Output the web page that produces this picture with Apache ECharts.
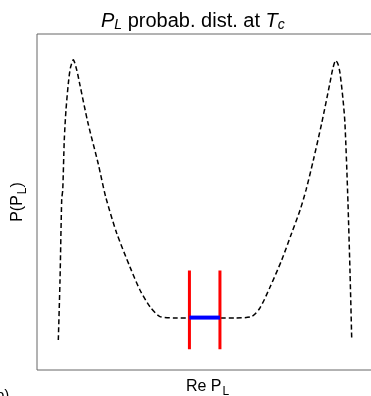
<!DOCTYPE html>
<html>
<head>
<meta charset="utf-8">
<script src="https://cdn.jsdelivr.net/npm/echarts@6/dist/echarts.min.js"></script>
<style>
  html, body { margin: 0; padding: 0; background: #fff; }
  #chart { width: 371px; height: 396px; }
</style>
</head>
<body>
<div id="chart"></div>
<script>
// Re P_L positions and probability values
const curveX = [-0.875, -0.865, -0.855, -0.849, -0.840, -0.830, -0.816, -0.804, -0.787,
  -0.767, -0.748, -0.701, -0.642, -0.597, -0.533, -0.455, -0.396, -0.337, -0.279,
  -0.191, -0.103, -0.015, 0.073, 0.161,
  0.259, 0.308, 0.367, 0.435, 0.494, 0.543, 0.578, 0.621, 0.670, 0.718,
  0.736, 0.752, 0.765, 0.777, 0.795, 0.806, 0.822, 0.836, 0.846];
const curveY = [0.089, 0.268, 0.509, 0.536, 0.685, 0.774, 0.854, 0.899, 0.923,
  0.893, 0.848, 0.735, 0.616, 0.515, 0.408, 0.307, 0.238, 0.188, 0.159,
  0.155, 0.155, 0.155, 0.155, 0.155,
  0.159, 0.185, 0.247, 0.327, 0.408, 0.476, 0.536, 0.625, 0.735, 0.854,
  0.899, 0.921, 0.911, 0.884, 0.804, 0.735, 0.527, 0.289, 0.089];

// red bars and blue segment
const redX = [-0.106, 0.073];
const redY = [0.062, 0.296];
const blueY = 0.156;

const FONT = "Liberation Sans, Arial, sans-serif";

const chart = echarts.init(document.getElementById("chart"));

const redSeries = redX.map(x => ({
  type: "line",
  data: [[x, redY[0]], [x, redY[1]]],
  showSymbol: false,
  silent: true,
  lineStyle: { color: "#ff0000", width: 3 },
  z: 3
}));

chart.setOption({
  animation: false,
  title: {
    text: "{i|P}{sub|L}{n| probab. dist. at }{i|T}{sub|c}",
    left: 96,
    top: 5,
    textStyle: {
      fontFamily: FONT, fontSize: 20, fontWeight: "normal", color: "#000",
      rich: {
        n: { fontFamily: FONT, fontSize: 20, fontWeight: "normal", color: "#000" },
        i: { fontFamily: FONT, fontSize: 20, fontWeight: "normal", fontStyle: "italic", color: "#000" },
        sub: { fontFamily: FONT, fontSize: 14, fontWeight: "normal", fontStyle: "italic", color: "#000",
               padding: [8, 0, 0, 0] }
      }
    }
  },
  grid: {
    left: 37, top: 34, width: 341, height: 336,
    outerBoundsMode: "none",
    containLabel: false,
    show: true, borderColor: "#666", borderWidth: 1
  },
  xAxis: {
    type: "value", min: -1, max: 1,
    name: "{n|Re P}{sub|L}",
    nameLocation: "middle",
    nameGap: 5,
    nameTextStyle: {
      fontFamily: FONT, fontSize: 16, color: "#000",
      rich: {
        n: { fontFamily: FONT, fontSize: 16, color: "#000" },
        sub: { fontFamily: FONT, fontSize: 12, color: "#000",
               padding: [11, 0, 0, 1] }
      }
    },
    axisLine: { show: false },
    axisTick: { show: false },
    axisLabel: { show: false },
    splitLine: { show: false }
  },
  yAxis: {
    type: "value", min: 0, max: 1,
    name: "{n|P(P}{sub|L}{n|)}",
    nameLocation: "middle",
    nameGap: 8,
    nameTextStyle: {
      fontFamily: FONT, fontSize: 16, color: "#000",
      rich: {
        n: { fontFamily: FONT, fontSize: 16, color: "#000" },
        sub: { fontFamily: FONT, fontSize: 12, color: "#000",
               padding: [11, 0, 0, 1] }
      }
    },
    axisLine: { show: false },
    axisTick: { show: false },
    axisLabel: { show: false },
    splitLine: { show: false }
  },
  graphic: [{
    type: "text", left: -4, top: 388,
    style: { text: "b)", font: "15px Liberation Sans", fill: "#000" }
  }],
  series: [
    {
      type: "line",
      data: curveX.map((x, i) => [x, curveY[i]]),
      smooth: 0.25,
      showSymbol: false,
      silent: true,
      lineStyle: { color: "#000", width: 1.5, type: [5, 3] },
      z: 2
    },
    ...redSeries,
    {
      type: "line",
      data: [[redX[0], blueY], [redX[1], blueY]],
      showSymbol: false,
      silent: true,
      lineStyle: { color: "#0000ff", width: 4 },
      z: 4
    }
  ]
});
</script>
</body>
</html>
